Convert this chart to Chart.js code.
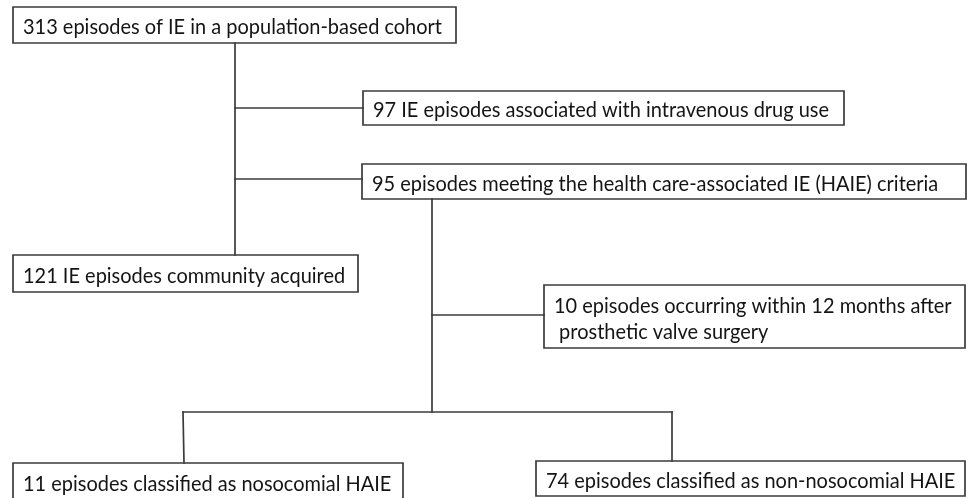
<!DOCTYPE html>
<html>
<head>
<meta charset="utf-8">
<script src="https://cdn.jsdelivr.net/npm/chart.js@4"></script>
<style>
  html, body { margin: 0; padding: 0; background: #fff; }
  canvas { display: block; }
</style>
</head>
<body>
<canvas id="flow" width="970" height="498"></canvas>
<script>
// episode counts and what each box says
const counts = [313, 97, 95, 121, 10, 11, 74];
const labels = [
  ["episodes of IE in a population-based cohort"],
  ["IE episodes associated with intravenous drug use"],
  ["episodes meeting the health care-associated IE (HAIE) criteria"],
  ["IE episodes community acquired"],
  ["episodes occurring within 12 months after", " prosthetic valve surgery"],
  ["episodes classified as nosocomial HAIE"],
  ["episodes classified as non-nosocomial HAIE"]
];

// layout (page units, y down): box = [left, top, right, bottom]
const boxes = [
  [13, 7, 456, 43],
  [363, 91, 844, 125],
  [362, 164, 966, 199],
  [13, 255, 358, 292],
  [544, 285, 965, 348],
  [13, 463, 403, 500],
  [536, 461, 965, 496]
];
// connectors, [x1, y1, x2, y2]
const links = [
  [235, 43, 235, 255],
  [235, 108, 363, 108],
  [235, 179, 362, 179],
  [432, 199, 432, 412],
  [432, 315, 544, 315],
  [183, 412, 672, 412],
  [183, 412, 184, 463],
  [672, 412, 672, 461]
];

const lineColor = "#3b3b3b";
const textColor = "#141414";
const fontFamily = "Lato, 'Liberation Sans', sans-serif";

const datasets = [];
links.forEach(l => {
  datasets.push({
    data: [{ x: l[0], y: l[1] }, { x: l[2], y: l[3] }],
    borderColor: lineColor,
    borderWidth: 1.7
  });
});
boxes.forEach(b => {
  datasets.push({
    data: [
      { x: b[0], y: b[1] }, { x: b[2], y: b[1] },
      { x: b[2], y: b[3] }, { x: b[0], y: b[3] }, { x: b[0], y: b[1] }
    ],
    borderColor: lineColor,
    borderWidth: 1.7
  });
});

// box texts, drawn through the scales
const boxText = {
  id: "boxText",
  afterDatasetsDraw(chart) {
    const ctx = chart.ctx;
    const sx = chart.scales.x, sy = chart.scales.y;
    ctx.save();
    ctx.font = "21px " + fontFamily;
    // squeeze horizontally so the first line spans like the original
    const w = ctx.measureText(counts[0] + " " + labels[0][0]).width;
    const squeeze = 419 / w;
    ctx.fillStyle = textColor;
    ctx.textBaseline = "alphabetic";
    boxes.forEach((b, i) => {
      const left = sx.getPixelForValue(b[0]) + 10;
      const top = sy.getPixelForValue(b[1]);
      const bottom = sy.getPixelForValue(b[3]);
      const lines = labels[i];
      const step = 26;
      const mid = (top + bottom) / 2;
      lines.forEach((t, j) => {
        const txt = j === 0 ? counts[i] + " " + t : t;
        const base = mid + 9 + (j - (lines.length - 1) / 2) * step;
        ctx.save();
        ctx.translate(left, base);
        ctx.scale(squeeze, 1);
        ctx.fillText(txt, 0, 0);
        ctx.restore();
      });
    });
    ctx.restore();
  }
};

new Chart(document.getElementById("flow"), {
  type: "scatter",
  data: { datasets: datasets },
  options: {
    responsive: false,
    animation: false,
    layout: { padding: 0 },
    elements: {
      point: { radius: 0, hoverRadius: 0 },
      line: { tension: 0, fill: false, borderCapStyle: "square" }
    },
    datasets: { scatter: { showLine: true } },
    plugins: { legend: { display: false }, tooltip: { enabled: false } },
    scales: {
      x: { type: "linear", min: 0, max: 970, display: false },
      y: { type: "linear", min: 0, max: 498, reverse: true, display: false }
    }
  },
  plugins: [boxText]
});
</script>
</body>
</html>
